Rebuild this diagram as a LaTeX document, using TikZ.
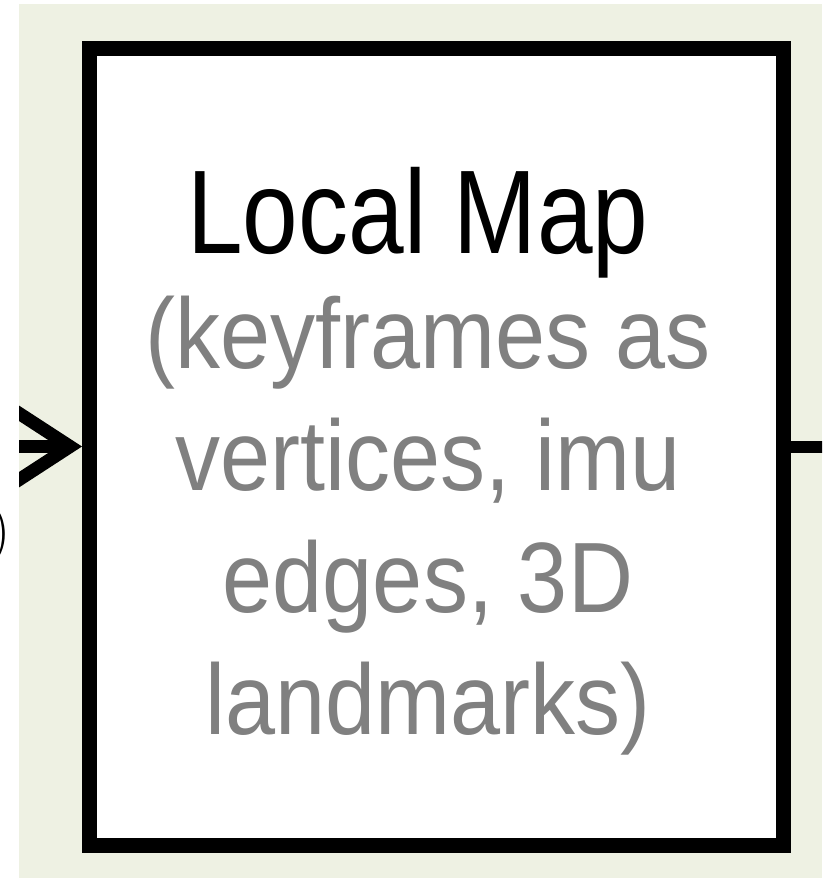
\documentclass[tikz,border=0pt]{standalone}
\usepackage{fontspec}
\newfontfamily\titlefont[FakeStretch=0.84]{Liberation Sans}
\newfontfamily\boxfont[FakeStretch=0.9]{Liberation Sans}
\usetikzlibrary{arrows.meta,positioning}
\definecolor{panel}{RGB}{238,241,227}
\definecolor{note}{RGB}{128,128,128}

\begin{document}
\begin{tikzpicture}[x=0.5pt,y=-0.5pt]
  \useasboundingbox (0,0) rectangle (825,878);
  \fill[panel] (19,4) rectangle (822,878);
  \node[inner sep=0pt, anchor=east, font=\fontsize{30}{36}\selectfont] (paren) at (11,535) {)};
  \begin{scope}[every node/.style={inner sep=0pt}]
    \node[draw, line width=7.5pt, fill=white, minimum width=346.75pt, minimum height=398.5pt] (map) at (436.25,446.5) {};
    \node[anchor=base, font=\titlefont\fontsize{59.5}{72}\selectfont] (title) at (418,253) {Local Map};
    \node[anchor=base, align=center, text=note, font=\boxfont\fontsize{50}{61}\selectfont] (contents) at (428,734)
      {(keyframes as\\vertices, imu\\edges, 3D\\landmarks)};
  \end{scope}
  \begin{scope}
    \clip (19,4) rectangle (822,878);
    \coordinate (in) at (0,446.5);
    \coordinate (out) at (825,446.5);
    \draw[line width=6.5pt, -{Straight Barb[length=40pt,width=52pt]}] (in) -- (map.west);
    \draw[line width=6pt] (map.east) -- (out);
  \end{scope}
\end{tikzpicture}
\end{document}
